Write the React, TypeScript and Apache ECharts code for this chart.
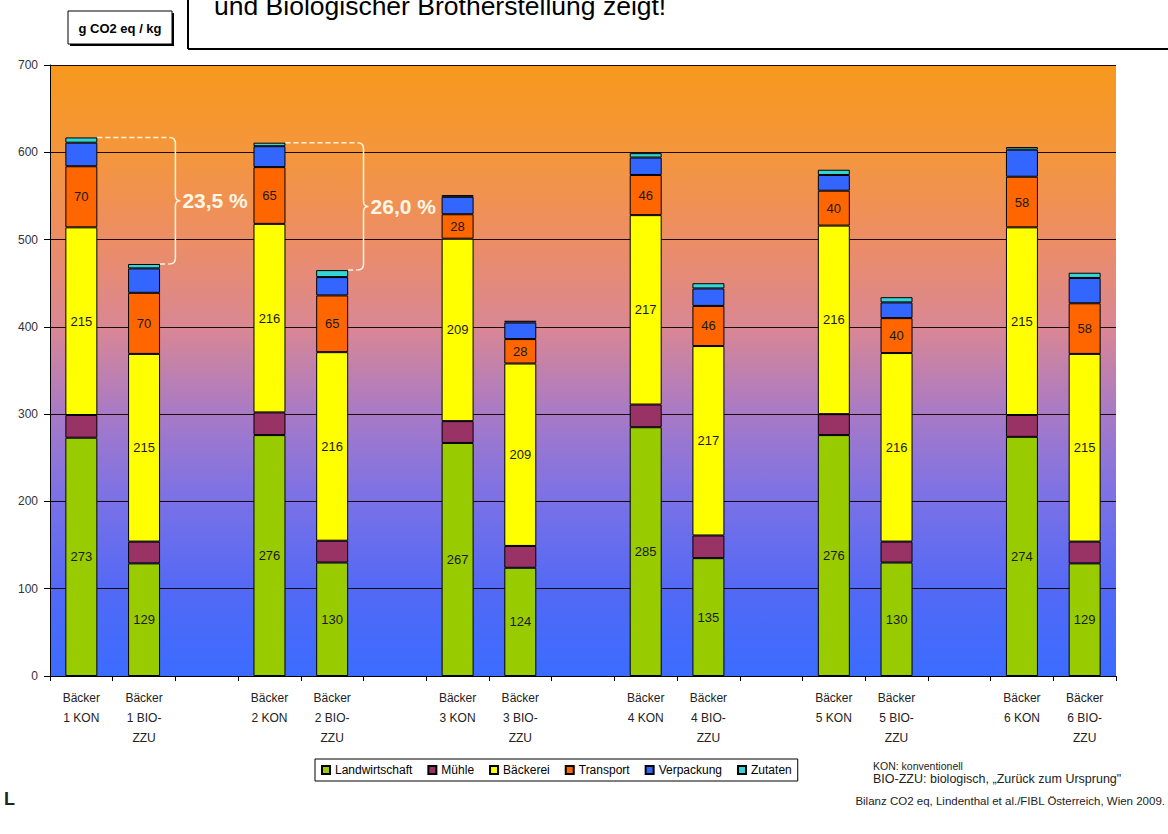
import React, { useEffect, useRef } from 'react';
import * as echarts from 'echarts';

const categories = [
  'Bäcker\n1 KON', 'Bäcker\n1 BIO-\nZZU', '',
  'Bäcker\n2 KON', 'Bäcker\n2 BIO-\nZZU', '',
  'Bäcker\n3 KON', 'Bäcker\n3 BIO-\nZZU', '',
  'Bäcker\n4 KON', 'Bäcker\n4 BIO-\nZZU', '',
  'Bäcker\n5 KON', 'Bäcker\n5 BIO-\nZZU', '',
  'Bäcker\n6 KON', 'Bäcker\n6 BIO-\nZZU',
];

const landwirtschaft = [273, 129, null, 276, 130, null, 267, 124, null, 285, 135, null, 276, 130, null, 274, 129];
const muehle = [26, 25, null, 26, 25, null, 25, 25, null, 26, 26, null, 24, 24, null, 25, 25];
const baeckerei = [215, 215, null, 216, 216, null, 209, 209, null, 217, 217, null, 216, 216, null, 215, 215];
const transport = [70, 70, null, 65, 65, null, 28, 28, null, 46, 46, null, 40, 40, null, 58, 58];
const verpackung = [27, 28, null, 24, 21, null, 20, 19, null, 20, 20, null, 18, 18, null, 31, 29];
const zutaten = [6, 5, null, 4, 8, null, 2, 2, null, 5, 6, null, 6, 6, null, 3, 6];

const seriesNames = ['Landwirtschaft', 'Mühle', 'Bäckerei', 'Transport', 'Verpackung', 'Zutaten'];
const seriesColors = ['#99CC00', '#993366', '#FFFF00', '#FF6600', '#3366FF', '#33D6D6'];
const labelled = [true, false, true, true, false, false];

const bracketKon = [0, 3];
const bracketLabels = ['23,5 %', '26,0 %'];

const yTicks = [0, 100, 200, 300, 400, 500, 600, 700];

const FONT = '"Liberation Sans", Arial, sans-serif';

export default function App() {
  const ref = useRef<HTMLDivElement>(null);

  useEffect(() => {
    document.body.style.margin = '0';
    const chart = echarts.init(ref.current!, null, { renderer: 'svg' });
    const allData = [landwirtschaft, muehle, baeckerei, transport, verpackung, zutaten];

    const series = seriesNames.map((name, i) => ({
      name,
      type: 'bar',
      stack: 'total',
      barWidth: '51%',
      data: allData[i],
      itemStyle: { color: seriesColors[i], borderColor: '#000', borderWidth: 1 },
      label: {
        show: labelled[i],
        position: 'inside',
        color: '#1a1a1a',
        fontSize: 13,
        fontFamily: FONT,
        formatter: (p: any) => (p.value == null ? '' : String(p.value)),
      },
      emphasis: { disabled: true },
    }));

    chart.setOption({
      animation: false,
      backgroundColor: '#fff',
      textStyle: { fontFamily: FONT },
      grid: {
        left: 50,
        right: 52,
        top: 65,
        bottom: 158,
        show: true,
        borderWidth: 0,
        backgroundColor: new echarts.graphic.LinearGradient(0, 0, 0, 1, [
          { offset: 0, color: '#F7981C' },
          { offset: 0.15, color: '#F4963E' },
          { offset: 0.29, color: '#EC8D66' },
          { offset: 0.43, color: '#D98794' },
          { offset: 0.57, color: '#A87AC6' },
          { offset: 0.71, color: '#7B71E6' },
          { offset: 0.86, color: '#5269F5' },
          { offset: 1, color: '#3B6CFF' },
        ]),
      },
      legend: {
        data: seriesNames,
        left: 315,
        top: 759,
        icon: 'rect',
        itemWidth: 8,
        itemHeight: 8,
        itemGap: 15,
        backgroundColor: '#fff',
        borderColor: '#000',
        borderWidth: 1,
        padding: [5, 6],
        textStyle: { fontSize: 12, color: '#000', fontFamily: FONT },
      },
      xAxis: {
        type: 'category',
        data: categories,
        axisLine: { show: true, lineStyle: { color: '#000', width: 1 } },
        axisTick: { show: true, length: 5, lineStyle: { color: '#000' } },
        axisLabel: {
          interval: 0,
          fontSize: 12,
          lineHeight: 20,
          color: '#222',
          margin: 12,
          fontFamily: FONT,
        },
      },
      yAxis: {
        type: 'value',
        min: yTicks[0],
        max: yTicks[yTicks.length - 1],
        interval: 100,
        axisLine: { show: true, lineStyle: { color: '#000', width: 1 } },
        axisTick: { show: true, length: 6, lineStyle: { color: '#000' } },
        splitLine: { show: true, lineStyle: { color: '#1a0a00', width: 1 } },
        axisLabel: { fontSize: 12, color: '#333', margin: 12, fontFamily: FONT },
      },
      series,
    });

    const total = (i: number) => allData.reduce((s, arr) => s + (arr[i] || 0), 0);
    const px = (c: number, v: number) => chart.convertToPixel({ gridIndex: 0 }, [c, v]) as number[];
    const catW = px(1, 0)[0] - px(0, 0)[0];
    const halfBar = catW * 0.255;

    const bracketGraphics: any[] = [];
    bracketKon.forEach((k, j) => {
      const b = k + 1;
      const [xk, yk] = px(k, total(k));
      const [xb, yb] = px(b, total(b));
      const xBr = xb + catW / 2;
      const ym = (yk + yb) / 2;
      const r = 6;
      const d = `M ${xBr - r} ${yk} Q ${xBr} ${yk} ${xBr} ${yk + r} L ${xBr} ${ym - 5} Q ${xBr} ${ym} ${xBr + 5} ${ym} Q ${xBr} ${ym} ${xBr} ${ym + 5} L ${xBr} ${yb - r} Q ${xBr} ${yb} ${xBr - r} ${yb}`;
      const shapeName = 'brace' + j;
      echarts.graphic.registerShape(shapeName, echarts.graphic.extendPath(d, {}) as any);
      const stroke = '#FFF3DC';
      bracketGraphics.push(
        { type: 'line', shape: { x1: xk + halfBar, y1: yk, x2: xBr - r, y2: yk }, style: { stroke, lineWidth: 1.5, lineDash: [5, 3] }, z: 100 },
        { type: 'line', shape: { x1: xb + halfBar, y1: yb, x2: xBr - r, y2: yb }, style: { stroke, lineWidth: 1.5, lineDash: [5, 3] }, z: 100 },
        { type: shapeName, style: { stroke, fill: null, lineWidth: 1.5 }, z: 100 },
        {
          type: 'text',
          x: xBr + 7,
          y: ym,
          z: 100,
          style: { text: bracketLabels[j], fill: '#FFF6E6', font: `bold 21px ${FONT}`, verticalAlign: 'middle' },
        },
      );
    });

    chart.setOption({
      graphic: [
        { type: 'line', shape: { x1: 188, y1: 0, x2: 188, y2: 49 }, style: { stroke: '#000', lineWidth: 2 } },
        { type: 'line', shape: { x1: 188, y1: 49, x2: 1168, y2: 49 }, style: { stroke: '#000', lineWidth: 2 } },
        {
          type: 'text', x: 214, y: 19.5,
          style: { text: 'und Biologischer Brotherstellung zeigt!', fill: '#000', font: `26.5px ${FONT}`, verticalAlign: 'bottom' },
        },
        { type: 'rect', shape: { x: 70, y: 13, width: 104, height: 33 }, style: { fill: '#000' } },
        { type: 'rect', shape: { x: 68, y: 11, width: 104, height: 33 }, style: { fill: '#fff', stroke: '#000', lineWidth: 1 } },
        {
          type: 'text', x: 120, y: 28,
          style: { text: 'g CO2 eq / kg', fill: '#000', font: `bold 13px ${FONT}`, align: 'center', verticalAlign: 'middle' },
        },
        { type: 'text', x: 873, y: 766, style: { text: 'KON: konventionell', fill: '#222', font: `10.5px ${FONT}`, verticalAlign: 'middle' } },
        { type: 'text', x: 873, y: 779, style: { text: 'BIO-ZZU: biologisch, „Zurück zum Ursprung"', fill: '#222', font: `12.5px ${FONT}`, verticalAlign: 'middle' } },
        { type: 'text', x: 1165, y: 801, style: { text: 'Bilanz CO2 eq, Lindenthal et al./FIBL Österreich, Wien 2009.', fill: '#222', font: `11.5px ${FONT}`, align: 'right', verticalAlign: 'middle' } },
        { type: 'text', x: 4, y: 799, style: { text: 'L', fill: '#222', font: `bold 18px ${FONT}`, verticalAlign: 'middle' } },
        ...bracketGraphics,
      ],
    });

    return () => chart.dispose();
  }, []);

  return <div ref={ref} style={{ width: 1168, height: 834 }} />;
}
